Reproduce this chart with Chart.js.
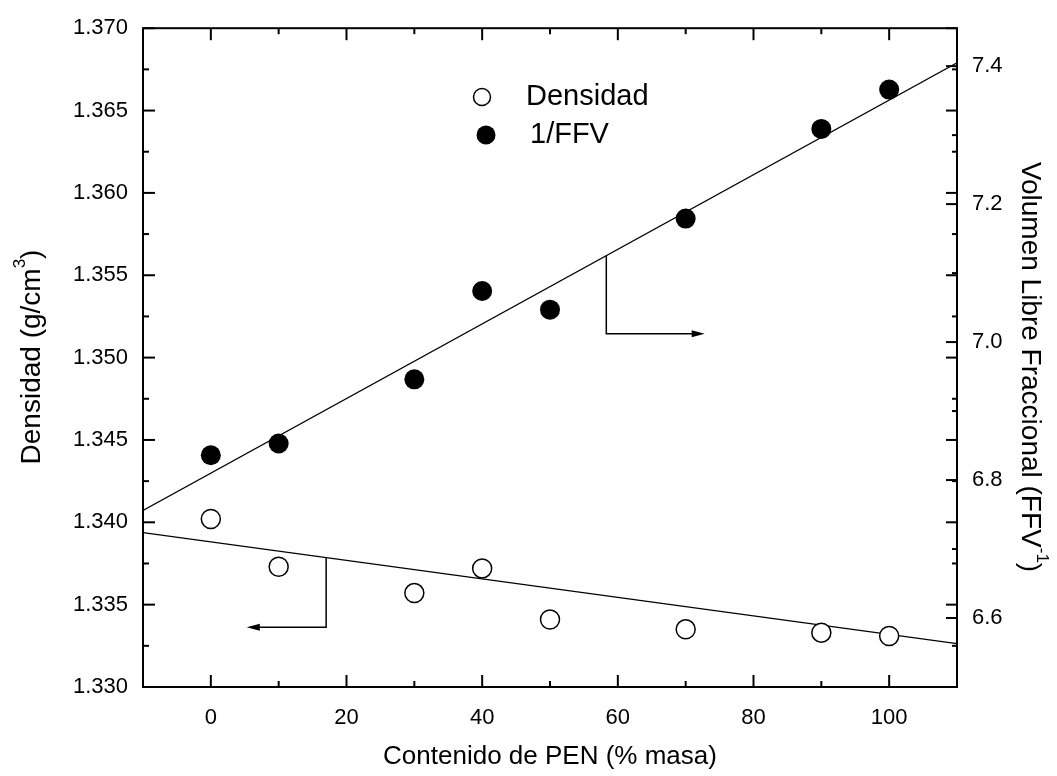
<!DOCTYPE html>
<html>
<head>
<meta charset="utf-8">
<script src="https://cdn.jsdelivr.net/npm/chart.js@4.4.1/dist/chart.umd.min.js"></script>
<style>
  html, body { margin: 0; padding: 0; background: #fff; }
  canvas { display: block; }
</style>
</head>
<body>
<canvas id="pvChart" width="1057" height="776"></canvas>
<script>
// PEN content (% mass)
const contenido = [0, 10, 30, 40, 50, 70, 90, 100];
const densidad = [1.3402, 1.3373, 1.3357, 1.3372, 1.3341, 1.3335, 1.3333, 1.3331];
const invFFV = [6.836, 6.853, 6.946, 7.074, 7.047, 7.179, 7.309, 7.366];

// linear fits, read at the ends of the x axis
const fitX = [-10, 110];
const densidadFit = [1.33937, 1.33263];
const invFFVFit = [6.756, 7.405];

// axis ticks
const xMajor = [0, 20, 40, 60, 80, 100];
const xMinor = [-10, 10, 30, 50, 70, 90, 110];
const leftMajor = [1.330, 1.335, 1.340, 1.345, 1.350, 1.355, 1.360, 1.365, 1.370];
const leftMinor = [1.3325, 1.3375, 1.3425, 1.3475, 1.3525, 1.3575, 1.3625, 1.3675];
const rightMajor = [6.6, 6.8, 7.0, 7.2, 7.4];
const rightMinor = [6.5, 6.7, 6.9, 7.1, 7.3];

// arrows pointing each fit to its axis (data units)
const arrowFFV = { x: 58.3, yEnd: 7.012, xEnd: 72.8 };
const arrowDens = { x: 17.0, yEnd: 1.33363, xEnd: 5.3 };

const FONT = 'Arial, "Liberation Sans", sans-serif';

function lineAt(xs, ys, x) {
    return ys[0] + (x - xs[0]) / (xs[1] - xs[0]) * (ys[1] - ys[0]);
}

function drawRichText(ctx, parts, cx, cy, angle, size) {
    ctx.save();
    ctx.translate(cx, cy);
    ctx.rotate(angle);
    ctx.textBaseline = 'middle';
    ctx.textAlign = 'left';
    let total = 0;
    parts.forEach(p => {
        ctx.font = (p.sup ? Math.round(size * 0.62) : size) + 'px ' + FONT;
        p.w = ctx.measureText(p.t).width;
        total += p.w;
    });
    let x = -total / 2;
    parts.forEach(p => {
        ctx.font = (p.sup ? Math.round(size * 0.62) : size) + 'px ' + FONT;
        ctx.fillText(p.t, x, p.sup ? -size * 0.4 : 0);
        x += p.w;
    });
    ctx.restore();
}

function arrowHead(ctx, x, y, dir) {
    ctx.beginPath();
    ctx.moveTo(x, y);
    ctx.lineTo(x - dir * 13, y - 3.5);
    ctx.lineTo(x - dir * 13, y + 3.5);
    ctx.closePath();
    ctx.fill();
}

const framePlugin = {
    id: 'frame',
    afterDatasetsDraw(chart) {
        const { ctx, chartArea: a, scales } = chart;
        const sx = scales.x, sy = scales.y, sy2 = scales.y2;
        ctx.save();
        ctx.strokeStyle = '#000';
        ctx.fillStyle = '#000';
        ctx.lineWidth = 2;
        ctx.strokeRect(a.left, a.top, a.right - a.left, a.bottom - a.top);

        const seg = (x1, y1, x2, y2) => {
            ctx.beginPath();
            ctx.moveTo(x1, y1);
            ctx.lineTo(x2, y2);
            ctx.stroke();
        };

        xMajor.forEach(v => {
            const p = sx.getPixelForValue(v);
            seg(p, a.bottom, p, a.bottom - 12);
            seg(p, a.top, p, a.top + 12);
        });
        xMinor.forEach(v => {
            const p = sx.getPixelForValue(v);
            seg(p, a.bottom, p, a.bottom - 6);
            seg(p, a.top, p, a.top + 6);
        });
        leftMajor.forEach(v => {
            const p = sy.getPixelForValue(v);
            seg(a.left, p, a.left + 12, p);
            seg(a.right, p, a.right - 11, p);
        });
        leftMinor.forEach(v => {
            const p = sy.getPixelForValue(v);
            seg(a.left, p, a.left + 6, p);
            seg(a.right, p, a.right - 5, p);
        });
        rightMajor.forEach(v => {
            const p = sy2.getPixelForValue(v);
            seg(a.right, p, a.right - 11, p);
        });
        rightMinor.forEach(v => {
            const p = sy2.getPixelForValue(v);
            seg(a.right, p, a.right - 5, p);
        });

        // arrows
        ctx.lineWidth = 1.5;
        let px = sx.getPixelForValue(arrowFFV.x);
        let pTop = sy2.getPixelForValue(lineAt(fitX, invFFVFit, arrowFFV.x));
        let pBot = sy2.getPixelForValue(arrowFFV.yEnd);
        let pEnd = sx.getPixelForValue(arrowFFV.xEnd);
        ctx.beginPath();
        ctx.moveTo(px, pTop);
        ctx.lineTo(px, pBot);
        ctx.lineTo(pEnd - 10, pBot);
        ctx.stroke();
        arrowHead(ctx, pEnd, pBot, 1);

        px = sx.getPixelForValue(arrowDens.x);
        pTop = sy.getPixelForValue(lineAt(fitX, densidadFit, arrowDens.x));
        pBot = sy.getPixelForValue(arrowDens.yEnd);
        pEnd = sx.getPixelForValue(arrowDens.xEnd);
        ctx.beginPath();
        ctx.moveTo(px, pTop);
        ctx.lineTo(px, pBot);
        ctx.lineTo(pEnd + 10, pBot);
        ctx.stroke();
        arrowHead(ctx, pEnd, pBot, -1);

        // legend
        ctx.lineWidth = 1.5;
        ctx.fillStyle = '#fff';
        ctx.beginPath();
        ctx.arc(482, 97, 8.5, 0, Math.PI * 2);
        ctx.fill();
        ctx.stroke();
        ctx.fillStyle = '#000';
        ctx.beginPath();
        ctx.arc(486, 135, 9.5, 0, Math.PI * 2);
        ctx.fill();
        ctx.font = '29px ' + FONT;
        ctx.textBaseline = 'middle';
        ctx.fillText('Densidad', 526, 97);
        ctx.fillText('1/FFV', 530, 135);

        // axis titles
        drawRichText(ctx, [{ t: 'Contenido de PEN (% masa)' }], (a.left + a.right) / 2, 757, 0, 26);
        drawRichText(ctx, [{ t: 'Densidad (g/cm' }, { t: '3', sup: true }, { t: ')' }], 32, 357, -Math.PI / 2, 28);
        drawRichText(ctx, [{ t: 'Volumen Libre Fraccional (FFV' }, { t: '-1', sup: true }, { t: ')' }], 1030, 367, Math.PI / 2, 28);
        ctx.restore();
    }
};

const ctx = document.getElementById('pvChart');

const pvChart = new Chart(ctx, {
    type: 'scatter',
    data: {
        datasets: [
            {
                label: 'Densidad',
                data: contenido.map((x, i) => ({ x: x, y: densidad[i] })),
                yAxisID: 'y',
                pointRadius: 9.5,
                pointBackgroundColor: '#fff',
                pointBorderColor: '#000',
                pointBorderWidth: 1.5,
                order: 0
            },
            {
                label: '1/FFV',
                data: contenido.map((x, i) => ({ x: x, y: invFFV[i] })),
                yAxisID: 'y2',
                pointRadius: 10,
                pointBackgroundColor: '#000',
                pointBorderColor: '#000',
                pointBorderWidth: 0,
                order: 0
            },
            {
                label: 'ajuste densidad',
                data: fitX.map((x, i) => ({ x: x, y: densidadFit[i] })),
                yAxisID: 'y',
                showLine: true,
                borderColor: '#000',
                borderWidth: 1.2,
                pointRadius: 0,
                order: 1
            },
            {
                label: 'ajuste 1/FFV',
                data: fitX.map((x, i) => ({ x: x, y: invFFVFit[i] })),
                yAxisID: 'y2',
                showLine: true,
                borderColor: '#000',
                borderWidth: 1.2,
                pointRadius: 0,
                order: 1
            }
        ]
    },
    options: {
        responsive: false,
        animation: false,
        layout: {
            padding: { top: 25, left: 0, right: 0, bottom: 0 }
        },
        plugins: {
            legend: { display: false },
            tooltip: { enabled: false }
        },
        scales: {
            x: {
                type: 'linear',
                position: 'bottom',
                min: -10,
                max: 110,
                grid: { display: false, drawTicks: false },
                border: { display: false },
                afterBuildTicks: s => { s.ticks = xMajor.map(v => ({ value: v })); },
                afterFit: s => { s.height = 89; },
                ticks: {
                    color: '#000',
                    padding: 18,
                    font: { family: FONT, size: 22 },
                    callback: v => String(v)
                }
            },
            y: {
                type: 'linear',
                position: 'left',
                min: 1.330,
                max: 1.370,
                grid: { display: false, drawTicks: false },
                border: { display: false },
                afterBuildTicks: s => { s.ticks = leftMajor.map(v => ({ value: v })); },
                afterFit: s => { s.width = 143; },
                ticks: {
                    color: '#000',
                    padding: 15,
                    font: { family: FONT, size: 22 },
                    callback: v => Number(v).toFixed(3)
                }
            },
            y2: {
                type: 'linear',
                position: 'right',
                min: 6.5,
                max: 7.455,
                grid: { display: false, drawTicks: false },
                border: { display: false },
                afterBuildTicks: s => { s.ticks = rightMajor.map(v => ({ value: v })); },
                afterFit: s => { s.width = 100; },
                ticks: {
                    color: '#000',
                    padding: 15,
                    font: { family: FONT, size: 22 },
                    callback: v => Number(v).toFixed(1)
                }
            }
        }
    },
    plugins: [framePlugin]
});
</script>
</body>
</html>
